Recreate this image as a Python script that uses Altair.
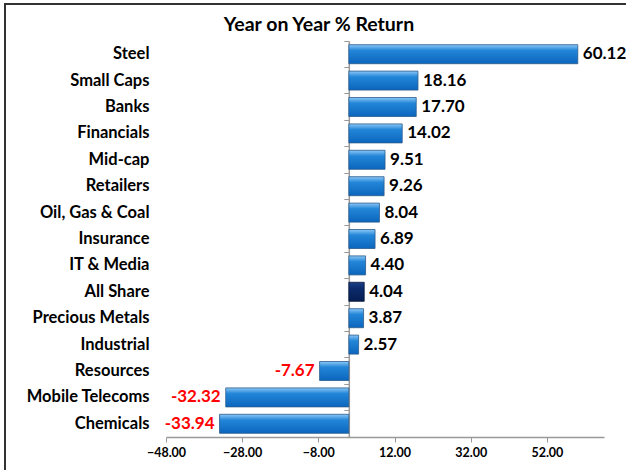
import altair as alt
import pandas as pd

categories = ["Steel", "Small Caps", "Banks", "Financials", "Mid-cap", "Retailers",
              "Oil, Gas & Coal", "Insurance", "IT & Media", "All Share",
              "Precious Metals", "Industrial", "Resources", "Mobile Telecoms", "Chemicals"]
values = [60.12, 18.16, 17.70, 14.02, 9.51, 9.26, 8.04, 6.89, 4.40, 4.04, 3.87, 2.57,
          -7.67, -32.32, -33.94]
tick_values = [-48, -28, -8, 12, 32, 52]
highlight = "All Share"
chart_title = "Year on Year % Return"

df = pd.DataFrame({"cat": categories, "val": values})
df["lbl"] = [f"{v:.2f}" for v in values]

FONT = "Lato"
W, H = 438, 396

xscale = alt.Scale(domain=[-48, 67], nice=False, zero=False)
yscale = alt.Scale(domain=categories, paddingInner=0, paddingOuter=0)

blue = alt.Gradient(gradient="linear", x1=0, x2=0, y1=0, y2=1,
                    stops=[alt.GradientStop(color="#8cc8f7", offset=0),
                           alt.GradientStop(color="#2386d8", offset=0.3),
                           alt.GradientStop(color="#0b66bd", offset=1)])
navy = alt.Gradient(gradient="linear", x1=0, x2=0, y1=0, y2=1,
                    stops=[alt.GradientStop(color="#1d3f86", offset=0),
                           alt.GradientStop(color="#0b2a6b", offset=0.35),
                           alt.GradientStop(color="#071d52", offset=1)])

base = alt.Chart(df)

bars = base.transform_filter(alt.datum.cat != highlight).mark_bar(
    color=blue, stroke="#2a5a8c", strokeWidth=0.8, height={"band": 0.72}
).encode(
    x=alt.X("val:Q", scale=xscale, title=None,
            axis=alt.Axis(values=tick_values, format=".2f", labelFont=FONT,
                          labelFontWeight="bold", labelFontSize=12.5, labelColor="#000",
                          labelFlush=False, labelOverlap=False,
                          domainColor="#999", domainWidth=1.5, tickColor="#999",
                          tickSize=5, grid=False, labelPadding=4)),
    x2=alt.datum(0),
    y=alt.Y("cat:N", scale=yscale, sort=categories, title=None,
            axis=alt.Axis(orient="left", labels=False, ticks=True, tickSize=5,
                          tickColor="#999", domainColor="#999", domainWidth=1.5,
                          bandPosition=0, offset=-(48 / 115 * W), grid=False)),
)

bar_hi = base.transform_filter(alt.datum.cat == highlight).mark_bar(
    color=navy, stroke="#04143a", strokeWidth=0.8, height={"band": 0.72}
).encode(
    x=alt.X("val:Q", scale=xscale, axis=None),
    x2=alt.datum(0),
    y=alt.Y("cat:N", scale=yscale, sort=categories, axis=None),
)

labels_axis = base.mark_text(opacity=0).encode(
    x=alt.X("val:Q", scale=xscale, axis=None),
    y=alt.Y("cat:N", scale=yscale, sort=categories, title=None,
            axis=alt.Axis(orient="left", domain=False, ticks=False, labelFont=FONT,
                          labelFontWeight="bold", labelFontSize=16.5, labelColor="#000",
                          labelPadding=17, grid=False, labelLimit=300)),
    text="lbl:N",
)

pos_text = base.transform_filter(alt.datum.val >= 0).mark_text(
    align="left", dx=5, font=FONT, fontWeight="bold", fontSize=17, color="#000"
).encode(
    x=alt.X("val:Q", scale=xscale, axis=None),
    y=alt.Y("cat:N", scale=yscale, sort=categories, axis=None),
    text="lbl:N",
)

neg_text = base.transform_filter(alt.datum.val < 0).mark_text(
    align="right", dx=-5, font=FONT, fontWeight="bold", fontSize=17, color="#ff0000"
).encode(
    x=alt.X("val:Q", scale=xscale, axis=None),
    y=alt.Y("cat:N", scale=yscale, sort=categories, axis=None),
    text="lbl:N",
)

single = alt.Data(values=[{"t": chart_title}])
title_mark = alt.Chart(single).mark_text(
    font=FONT, fontSize=19.5, fontWeight="bold", color="#000", align="center",
    baseline="alphabetic"
).encode(x=alt.value(153), y=alt.value(-10), text="t:N")

left_border = alt.Chart(single).mark_rule(color="#333", strokeWidth=2).encode(
    x=alt.value(-161), y=alt.value(-37), y2=alt.value(440))
top_border = alt.Chart(single).mark_rule(color="#333", strokeWidth=2).encode(
    x=alt.value(-162), x2=alt.value(470), y=alt.value(-37))

chart = alt.layer(bars, bar_hi, labels_axis, pos_text, neg_text, title_mark,
                  left_border, top_border).resolve_axis(
    x="independent", y="independent"
).properties(
    width=W, height=H,
    padding={"left": 166, "top": 41, "right": 22, "bottom": 33},
    autosize=alt.AutoSizeParams(type="none"),
    background="white",
).configure_view(stroke="transparent", strokeWidth=0)

chart.save("out.html", embed_options={"renderer": "svg", "actions": False})
